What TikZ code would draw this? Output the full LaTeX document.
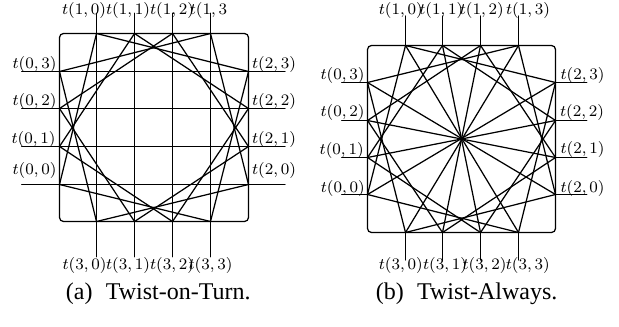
\documentclass[tikz,border=0pt]{standalone}
\usepackage{fontspec}
\newfontfamily\capfont{Liberation Serif}
\begin{document}
\begin{tikzpicture}[x=0.5pt,y=-0.5pt,
  lbl/.style={font=\fontsize{8.1}{9}\selectfont, inner sep=0pt},
  wire/.style={line width=0.62pt, line cap=round},
  frame/.style={rounded corners=2pt, line width=0.62pt},
  captext/.style={font=\capfont\fontsize{12}{14}\selectfont, inner sep=0pt, anchor=base}]
\useasboundingbox (0,0) rectangle (619,326);

% ---------- panel (a): geometry ----------
\foreach \i/\xx/\yy in {0/96.5/184.5, 1/134.5/146.5, 2/172.5/108.5, 3/210.5/71.5}{
  \coordinate (aT\i) at (\xx,33.5);
  \coordinate (aB\i) at (\xx,221.5);
  \coordinate (aL\i) at (59.5,\yy);
  \coordinate (aR\i) at (248.5,\yy);
  \coordinate (aTe\i) at (\xx,13.3);
  \coordinate (aBe\i) at (\xx,256.7);
  \coordinate (aLe\i) at (21.7,\yy);
  \coordinate (aRe\i) at (285,\yy);
}
\coordinate (aNW) at (59.5,33.5);
\coordinate (aSE) at (248.5,221.5);
\draw[frame] (aNW) rectangle (aSE);
\foreach \i in {0,...,3}{
  \pgfmathtruncatemacro\j{3-\i}
  \draw[wire] (aLe\i) -- (aRe\i);
  \draw[wire] (aTe\i) -- (aBe\i);
  \draw[wire] (aT\i) -- (aL\i);
  \draw[wire] (aT\i) -- (aR\j);
  \draw[wire] (aB\i) -- (aL\j);
  \draw[wire] (aB\i) -- (aR\i);
}
% labels (a)
\node[lbl] (laT0) at (84,10.5) {$t(1,0)$};
\node[lbl] (laT1) at (128,10.5) {$t(1,1)$};
\node[lbl] (laT2) at (172,10.5) {$t(1,2)$};
\node[lbl] (laT3) at (208.5,10.5) {$t(1,3$};
\node[lbl] (laB0) at (84.5,265) {$t(3,0)$};
\node[lbl] (laB1) at (128,265) {$t(3,1)$};
\node[lbl] (laB2) at (172,265) {$t(3,2)$};
\node[lbl] (laB3) at (210.5,265) {$t(3,3)$};
\node[lbl] (laL3) at (34.5,64.5) {$t(0,3)$};
\node[lbl] (laL2) at (34.5,101.7) {$t(0,2)$};
\node[lbl] (laL1) at (33.5,139.5) {$t(0,1)$};
\node[lbl] (laL0) at (34.5,170) {$t(0,0)$};
\node[lbl] (laR3) at (274,64.5) {$t(2,3)$};
\node[lbl] (laR2) at (274,101.7) {$t(2,2)$};
\node[lbl] (laR1) at (274,139.5) {$t(2,1)$};
\node[lbl] (laR0) at (274,170) {$t(2,0)$};
\node[captext] (capa) at (158.3,299.5) {(a)\hspace{0.55em}Twist-on-Turn.};

% ---------- panel (b): geometry ----------
\foreach \i/\xx/\yy in {0/405.5/194.5, 1/442.5/157.5, 2/480.5/120.5, 3/518.5/82.5}{
  \coordinate (bT\i) at (\xx,45.5);
  \coordinate (bB\i) at (\xx,232.5);
  \coordinate (bL\i) at (367.5,\yy);
  \coordinate (bR\i) at (555.5,\yy);
  \coordinate (bTe\i) at (\xx,16);
  \coordinate (bBe\i) at (\xx,260);
  \coordinate (bLe\i) at (341.7,\yy);
  \coordinate (bRe\i) at (586.7,\yy);
}
\coordinate (bNW) at (367.5,45.5);
\coordinate (bSE) at (555.5,232.5);
\draw[frame] (bNW) rectangle (bSE);
\foreach \i in {0,...,3}{
  \pgfmathtruncatemacro\j{3-\i}
  \draw[wire] (bLe\i) -- (bL\i);
  \draw[wire] (bR\i) -- (bRe\i);
  \draw[wire] (bTe\i) -- (bT\i);
  \draw[wire] (bB\i) -- (bBe\i);
  \draw[wire] (bL\i) -- (bR\j);
  \draw[wire] (bT\i) -- (bB\j);
  \draw[wire] (bT\i) -- (bL\i);
  \draw[wire] (bT\i) -- (bR\j);
  \draw[wire] (bB\i) -- (bL\j);
  \draw[wire] (bB\i) -- (bR\i);
}
% labels (b)
\node[lbl] (lbT0) at (400.8,10.8) {$t(1,0)$};
\node[lbl] (lbT1) at (441.3,10.8) {$t(1,1)$};
\node[lbl] (lbT2) at (481.7,10.8) {$t(1,2)$};
\node[lbl] (lbT3) at (528,10.8) {$t(1,3)$};
\node[lbl] (lbB0) at (400.8,265.5) {$t(3,0)$};
\node[lbl] (lbB1) at (445,265.5) {$t(3,1)$};
\node[lbl] (lbB2) at (484.5,265.5) {$t(3,2)$};
\node[lbl] (lbB3) at (527.8,265.5) {$t(3,3)$};
\node[lbl] (lbL3) at (342.5,75.8) {$t(0,3)$};
\node[lbl] (lbL2) at (342.5,112.7) {$t(0,2)$};
\node[lbl] (lbL1) at (341.7,150.8) {$t(0,1)$};
\node[lbl] (lbL0) at (342.8,188.3) {$t(0,0)$};
\node[lbl] (lbR3) at (582.5,75.8) {$t(2,3)$};
\node[lbl] (lbR2) at (582,112.7) {$t(2,2)$};
\node[lbl] (lbR1) at (582.5,149.2) {$t(2,1)$};
\node[lbl] (lbR0) at (582.5,188.3) {$t(2,0)$};
\node[captext] (capb) at (466.7,299.5) {(b)\hspace{0.55em}Twist-Always.};
\end{tikzpicture}
\end{document}
